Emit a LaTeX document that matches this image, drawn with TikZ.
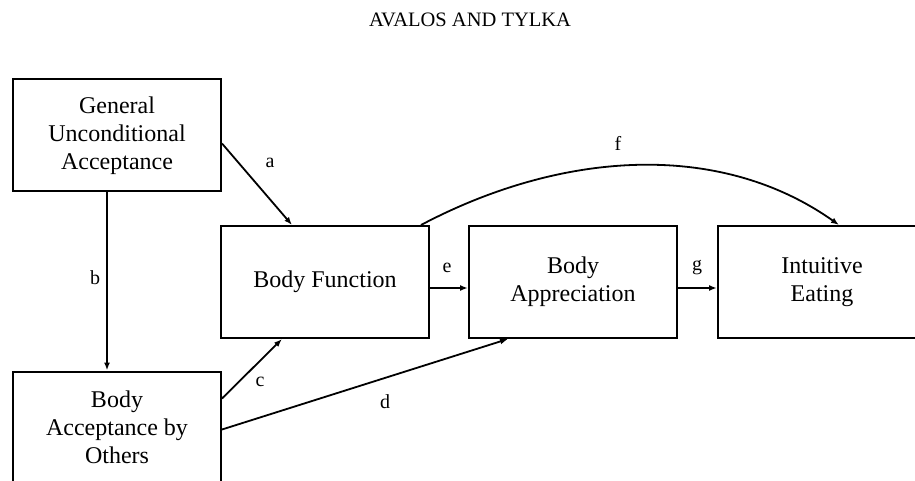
\documentclass[tikz,border=0pt]{standalone}
\usepackage{fontspec}
\setmainfont{Liberation Serif}
\usetikzlibrary{arrows.meta,calc,positioning}

\begin{document}
\begin{tikzpicture}[
  x=1pt, y=1pt,
  node distance=38pt and 38pt,
  var/.style={draw, line width=2pt, minimum width=208pt, minimum height=112pt, align=center, inner sep=0pt, font=\fontsize{24}{28}\selectfont},
  link/.style={-{Latex[length=8pt,width=6pt]}, line width=1.8pt},
  lbl/.style={inner sep=0pt, font=\fontsize{20}{24}\selectfont}
]
  \useasboundingbox (0,0) rectangle (915,480);
  \node[font=\fontsize{20.5}{24}\selectfont] (title) at (470,460) {AVALOS AND TYLKA};

  % variables
  \node[var] (gua) at (117,344.5) {General\\Unconditional\\Acceptance};
  \node[var] (others) at (117,52.5) {Body\\Acceptance by\\Others};
  \node[var] (func) at (325,198) {Body Function};
  \node[var, right=of func] (appr) {Body\\Appreciation};
  \node[var, right=39pt of appr] (eat) {Intuitive\\Eating};

  % paths
  \draw[link] ([yshift=-8pt]gua.east) -- ([xshift=-33pt]func.north);
  \draw[link] ([xshift=-10pt]gua.south) -- ([xshift=-10pt]others.north);
  \draw[link] ([yshift=-28pt]others.north east) -- ([xshift=-43pt]func.south);
  \draw[link] ([yshift=-59pt]others.north east) -- ([xshift=-65pt]appr.south);
  \draw[link] ([yshift=-6pt]func.east) -- ([yshift=-6pt]appr.west);
  \draw[link] ([yshift=-6pt]appr.east) -- ([yshift=-6pt]eat.west);
  \draw[link] ([xshift=-9pt]func.north east) .. controls +(140,74) and +(-120,85) .. ([xshift=17pt]eat.north);

  \node[lbl] (la) at (270,317) {a};
  \node[lbl] (lb) at (95,202) {b};
  \node[lbl] (lc) at (260,98) {c};
  \node[lbl] (ld) at (385,78) {d};
  \node[lbl] (le) at (447,212) {e};
  \node[lbl] (lf) at (618,337) {f};
  \node[lbl] (lg) at (697,212) {g};
\end{tikzpicture}
\end{document}
